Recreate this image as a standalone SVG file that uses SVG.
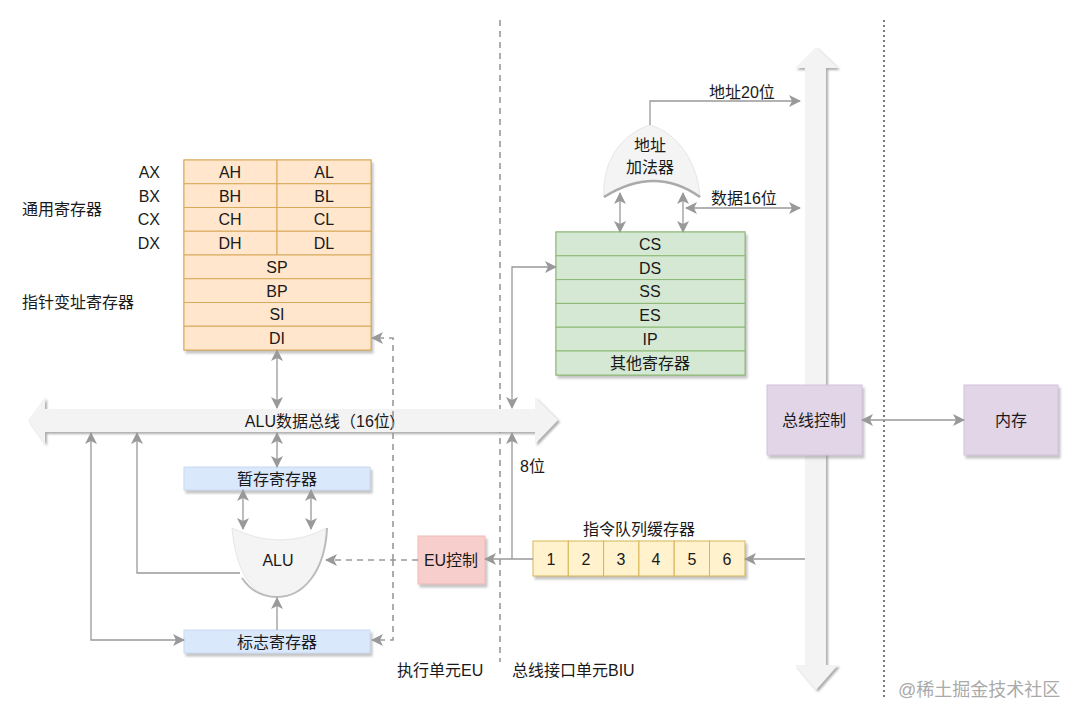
<svg xmlns="http://www.w3.org/2000/svg" width="1080" height="721" viewBox="0 0 1080 721">
<defs>
<filter id="sh" x="-10%" y="-10%" width="130%" height="130%"><feDropShadow dx="2" dy="3" stdDeviation="1" flood-color="#888" flood-opacity="0.5"/></filter>
<filter id="sh2" x="-10%" y="-10%" width="130%" height="130%"><feDropShadow dx="2" dy="2" stdDeviation="0.8" flood-color="#999" flood-opacity="0.8"/></filter>
<marker id="ar" markerUnits="userSpaceOnUse" markerWidth="12" markerHeight="12" refX="11" refY="6" orient="auto-start-reverse" viewBox="0 0 12 12"><path d="M0,0 L12,6 L0,12 L3,6 Z" fill="#999"/></marker>
</defs>
<style>
text{font-family:"Liberation Sans","Noto Sans CJK SC",sans-serif;font-size:16px;fill:#1a1a1a}
.c{text-anchor:middle}
.r{text-anchor:end}
.or{fill:#ffe6cc;stroke:#d7a95a;stroke-width:1}
.gr{fill:#d5e8d4;stroke:#8cb873;stroke-width:1}
.bl{fill:#dae8fc;stroke:#c9d9f0;stroke-width:1}
.pk{fill:#f8cecc;stroke:#efb9b6;stroke-width:1}
.pu{fill:#e1d5e7;stroke:#d3c2dc;stroke-width:1}
.ye{fill:#fff2cc;stroke:#d6b656;stroke-width:1}
.ln{fill:none;stroke:#999;stroke-width:1.3}
.da{fill:none;stroke:#999;stroke-width:1.6;stroke-dasharray:6,5}
.bus{fill:#f3f3f3}
</style>
<rect width="1080" height="721" fill="#fff"/>

<!-- separators -->
<line x1="500" y1="20" x2="500" y2="662" stroke="#999" stroke-width="1.6" stroke-dasharray="6,5"/>
<line x1="884" y1="20" x2="884" y2="700" stroke="#222" stroke-width="1.2" stroke-dasharray="2,3"/>

<!-- buses -->
<g id="alu-bus">
<polygon class="bus" filter="url(#sh2)" points="28,420 45,397 45,409 535,409 535,397 558,420 535,444 535,432 45,432 45,444"/>
<text class="c" x="320" y="427">ALU数据总线（16位)</text>
</g>
<g id="system-bus">
<polygon class="bus" filter="url(#sh2)" points="816,47 838,68 826,68 826,665 838,665 816,690 795,665 805,665 805,68 795,68"/>
</g>

<!-- general registers -->
<g id="regs">
<g filter="url(#sh)">
<rect class="or" x="184" y="160" width="187" height="190"/>
</g>
<rect class="or" x="184" y="160" width="93" height="23.75"/><rect class="or" x="277" y="160" width="94" height="23.75"/>
<rect class="or" x="184" y="183.75" width="93" height="23.75"/><rect class="or" x="277" y="183.75" width="94" height="23.75"/>
<rect class="or" x="184" y="207.5" width="93" height="23.75"/><rect class="or" x="277" y="207.5" width="94" height="23.75"/>
<rect class="or" x="184" y="231.25" width="93" height="23.75"/><rect class="or" x="277" y="231.25" width="94" height="23.75"/>
<rect class="or" x="184" y="255" width="187" height="23.75"/>
<rect class="or" x="184" y="278.75" width="187" height="23.75"/>
<rect class="or" x="184" y="302.5" width="187" height="23.75"/>
<rect class="or" x="184" y="326.25" width="187" height="23.75"/>
<text class="c" x="230" y="178">AH</text><text class="c" x="324" y="178">AL</text>
<text class="c" x="230" y="202">BH</text><text class="c" x="324" y="202">BL</text>
<text class="c" x="230" y="225">CH</text><text class="c" x="324" y="225">CL</text>
<text class="c" x="230" y="249">DH</text><text class="c" x="324" y="249">DL</text>
<text class="c" x="277" y="273">SP</text>
<text class="c" x="277" y="297">BP</text>
<text class="c" x="277" y="320">SI</text>
<text class="c" x="277" y="344">DI</text>
<text class="r" x="160" y="178">AX</text>
<text class="r" x="160" y="202">BX</text>
<text class="r" x="160" y="225">CX</text>
<text class="r" x="160" y="249">DX</text>
<text x="22" y="215">通用寄存器</text>
<text x="22" y="308">指针变址寄存器</text>
</g>

<!-- segment registers -->
<g id="segregs">
<g filter="url(#sh)"><rect class="gr" x="556" y="232" width="189" height="143"/></g>
<rect class="gr" x="556" y="232" width="189" height="23.8"/>
<rect class="gr" x="556" y="255.8" width="189" height="23.8"/>
<rect class="gr" x="556" y="279.6" width="189" height="23.8"/>
<rect class="gr" x="556" y="303.4" width="189" height="23.8"/>
<rect class="gr" x="556" y="327.2" width="189" height="23.8"/>
<rect class="gr" x="556" y="351" width="189" height="24"/>
<text class="c" x="650" y="250">CS</text>
<text class="c" x="650" y="274">DS</text>
<text class="c" x="650" y="297">SS</text>
<text class="c" x="650" y="321">ES</text>
<text class="c" x="650" y="345">IP</text>
<text class="c" x="650" y="369">其他寄存器</text>
</g>

<!-- address adder -->
<g id="adder">
<path d="M604,197 C602,160 622,134 650,125 C680,134 698,165 700,197 Q655,165 604,197 Z" fill="#f4f4f4" stroke="#e6e6e6" stroke-width="1"/>
<path d="M604,197 Q655,165 700,197" fill="none" stroke="#aaa" stroke-width="2.5"/>
<text class="c" x="650" y="151">地址</text>
<text class="c" x="650" y="173">加法器</text>
</g>

<!-- ALU -->
<g id="alu">
<path d="M232,528 Q280,552 327,528 C325,572 303,597 277,597 C252,597 236,572 232,528 Z" fill="#f4f4f4" stroke="#e6e6e6" stroke-width="1"/>
<path d="M327,528 C325,572 303,597 277,597 C262,597 250,590 242,578" fill="none" stroke="#bbb" stroke-width="2"/>
<text class="c" x="278" y="566">ALU</text>
</g>

<g id="temp-reg">
<rect class="bl" filter="url(#sh)" x="184" y="467" width="186" height="23"/>
<text class="c" x="277" y="485">暂存寄存器</text>
</g>
<g id="flag-reg">
<rect class="bl" filter="url(#sh)" x="184" y="630" width="186" height="23"/>
<text class="c" x="277" y="648">标志寄存器</text>
</g>
<g id="eu-ctrl">
<rect class="pk" filter="url(#sh)" x="418" y="536" width="67" height="48"/>
<text class="c" x="451" y="566">EU控制</text>
</g>
<g id="bus-ctrl">
<rect class="pu" filter="url(#sh)" x="767" y="385" width="95" height="70"/>
<text class="c" x="814" y="426">总线控制</text>
</g>
<g id="memory">
<rect class="pu" filter="url(#sh)" x="964" y="385" width="94" height="70"/>
<text class="c" x="1011" y="426">内存</text>
</g>
<g id="queue">
<g filter="url(#sh)">
<rect class="ye" x="533" y="541" width="35.3" height="35"/>
<rect class="ye" x="568.3" y="541" width="35.3" height="35"/>
<rect class="ye" x="603.6" y="541" width="35.3" height="35"/>
<rect class="ye" x="638.9" y="541" width="35.3" height="35"/>
<rect class="ye" x="674.2" y="541" width="35.3" height="35"/>
<rect class="ye" x="709.5" y="541" width="35.5" height="35"/>
</g>
<text class="c" x="551" y="565">1</text>
<text class="c" x="586" y="565">2</text>
<text class="c" x="621" y="565">3</text>
<text class="c" x="656" y="565">4</text>
<text class="c" x="692" y="565">5</text>
<text class="c" x="727" y="565">6</text>
<text class="c" x="639" y="535">指令队列缓存器</text>
</g>

<!-- labels -->
<text x="709" y="98">地址20位</text>
<text x="711" y="204">数据16位</text>
<text x="520" y="472">8位</text>
<text x="397" y="676">执行单元EU</text>
<text x="512" y="676">总线接口单元BIU</text>
<text x="898" y="696" style="fill:#aaa;font-size:18px">@稀土掘金技术社区</text>

<!-- connectors -->
<g id="connectors">
<path class="ln" d="M650,125 V101 H800" marker-end="url(#ar)"/>
<path class="ln" d="M686,208 H800" marker-start="url(#ar)" marker-end="url(#ar)"/>
<path class="ln" d="M620,193 V232" marker-start="url(#ar)" marker-end="url(#ar)"/>
<path class="ln" d="M683,193 V232" marker-start="url(#ar)" marker-end="url(#ar)"/>
<path class="ln" d="M862,420 H964" marker-start="url(#ar)" marker-end="url(#ar)"/>
<path class="ln" d="M805,559 H745" marker-end="url(#ar)"/>
<path class="ln" d="M533,559 H485" marker-end="url(#ar)"/>
<path class="ln" d="M512,559 V433" marker-end="url(#ar)"/>
<path class="ln" d="M556,267 H512 V408" marker-start="url(#ar)" marker-end="url(#ar)"/>
<path class="ln" d="M277,350 V408" marker-start="url(#ar)" marker-end="url(#ar)"/>
<path class="ln" d="M277,433 V467" marker-start="url(#ar)" marker-end="url(#ar)"/>
<path class="ln" d="M243,490 V529" marker-start="url(#ar)" marker-end="url(#ar)"/>
<path class="ln" d="M311,490 V529" marker-start="url(#ar)" marker-end="url(#ar)"/>
<path class="ln" d="M277,630 V598" marker-end="url(#ar)"/>
<path class="ln" d="M240,573 H137 V433" marker-end="url(#ar)"/>
<path class="ln" d="M184,640 H91 V433" marker-start="url(#ar)" marker-end="url(#ar)"/>
<path class="da" d="M418,560 H326" marker-end="url(#ar)"/>
<path class="da" d="M393,560 V338 H372" marker-end="url(#ar)"/>
<path class="da" d="M393,560 V640 H372" marker-end="url(#ar)"/>
</g>
</svg>
